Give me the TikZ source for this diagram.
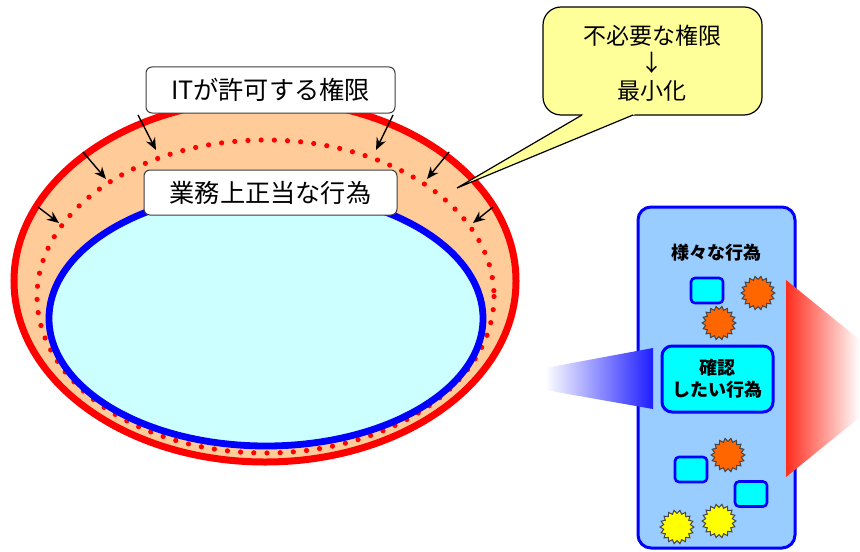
\documentclass[tikz,border=0pt]{standalone}
\usepackage{fontspec}
\setmainfont{Noto Sans CJK JP}
\usetikzlibrary{shapes.geometric,arrows.meta}
\definecolor{redline}{RGB}{255,0,0}
\definecolor{orangefill}{RGB}{255,204,153}
\definecolor{cyanfill}{RGB}{204,255,255}
\definecolor{blueline}{RGB}{0,0,255}
\definecolor{callfill}{RGB}{255,255,153}
\definecolor{panelfill}{RGB}{153,204,255}
\definecolor{boxcyan}{RGB}{0,255,255}
\definecolor{burstorange}{RGB}{255,102,0}
\definecolor{burstyellow}{RGB}{255,255,0}
\definecolor{wedgered}{RGB}{255,45,30}
\definecolor{wedgeblue}{RGB}{30,30,255}
\definecolor{lblline}{RGB}{60,60,60}
\definecolor{burstline}{RGB}{70,70,70}
\begin{document}
\begin{tikzpicture}[x=0.5pt,y=-0.5pt,
  lbl/.style={draw=lblline, fill=white, rounded corners=3pt, line width=0.5pt,
    inner sep=0pt, font=\fontsize{12.6}{14}\selectfont},
  ptr/.style={line width=0.7pt, -{Stealth[length=6pt,width=5pt]}},
  burst/.style={star, star points=18, star point ratio=0.8, minimum size=13.5pt,
    inner sep=0pt, draw=burstline, line width=0.5pt},
  smallbox/.style={draw=blueline, fill=boxcyan, line width=1.3pt, rounded corners=2pt,
    inner sep=0pt, minimum width=16pt, minimum height=12.5pt},
  bold9/.style={font=\bfseries\fontsize{9}{11}\selectfont, align=center}
]
\useasboundingbox (0,0) rectangle (860,551);

% ellipses
\filldraw[fill=orangefill, draw=redline, line width=3.5pt] (265,281) ellipse [x radius=251, y radius=181];
\draw[redline, line width=2.6pt, line cap=round, dash pattern=on 0pt off 6.6pt] (265.5,296.5) ellipse [x radius=228.5, y radius=156.5];
\filldraw[fill=cyanfill, draw=blueline, line width=3.4pt] (266,318.5) ellipse [x radius=217, y radius=127.5];

% arrows
\coordinate (s1) at (138,115); \coordinate (e1) at (156,150);
\coordinate (s2) at (83,152);  \coordinate (e2) at (106,179);
\coordinate (s3) at (38,207);  \coordinate (e3) at (59,223);
\coordinate (s4) at (393,115); \coordinate (e4) at (376,150);
\coordinate (s5) at (449,152); \coordinate (e5) at (427,179);
\coordinate (s6) at (493,207); \coordinate (e6) at (473,223);
\foreach \i in {1,...,6} \draw[ptr] (s\i) -- (e\i);

% labels
\node[lbl, minimum width=124.5pt, minimum height=23pt] (itlabel) at (270.5,90) {ITが許可する権限};
\node[lbl, minimum width=126.5pt, minimum height=22.5pt] (bizlabel) at (270.5,192.5) {業務上正当な行為};

% callout
\draw[fill=callfill, line width=0.6pt, rounded corners=9pt] (543,7) rectangle (762,115);
\coordinate (tip) at (457,188);
\coordinate (tl) at (582,115);
\coordinate (tr) at (633,115);
\fill[callfill] (587.1,112) -- (tip) -- (640.2,112) -- cycle;
\draw[line width=0.6pt, line join=miter] (tl) -- (tip) -- (tr);
\node[font=\fontsize{11.5}{13}\selectfont] (c1) at (652,36) {不必要な権限};
\node[font=\fontsize{11.5}{13}\selectfont] (c2) at (652,63) {↓};
\node[font=\fontsize{11.5}{13}\selectfont] (c3) at (652,91) {最小化};

% right panel
\draw[fill=panelfill, draw=blueline, line width=1.5pt, rounded corners=6.5pt] (638,207) rectangle (795,548);
\shade[left color=white, right color=wedgeblue] (545,368) -- (653,348) -- (653,409) -- (545,390) -- cycle;
\shade[left color=wedgered, right color=white] (786,280) -- (860,340) -- (860,417) -- (786,477) -- cycle;

\node[bold9] (various) at (716,253) {様々な行為};
\node[draw=blueline, fill=boxcyan, line width=1.5pt, rounded corners=5pt, minimum width=55.5pt,
  minimum height=33pt, inner sep=0pt, bold9] (check) at (717.5,379) {確認\\したい行為};

\node[smallbox] (r1) at (707,290.5) {};
\node[smallbox] (r2) at (691,469.5) {};
\node[smallbox] (r3) at (751,494) {};

\node[burst, fill=burstorange] (b1) at (758,293) {};
\node[burst, fill=burstorange] (b2) at (719,323) {};
\node[burst, fill=burstorange] (b3) at (728,455) {};
\node[burst, fill=burstyellow] (b4) at (677,527) {};
\node[burst, fill=burstyellow] (b5) at (719,521) {};
\end{tikzpicture}
\end{document}
